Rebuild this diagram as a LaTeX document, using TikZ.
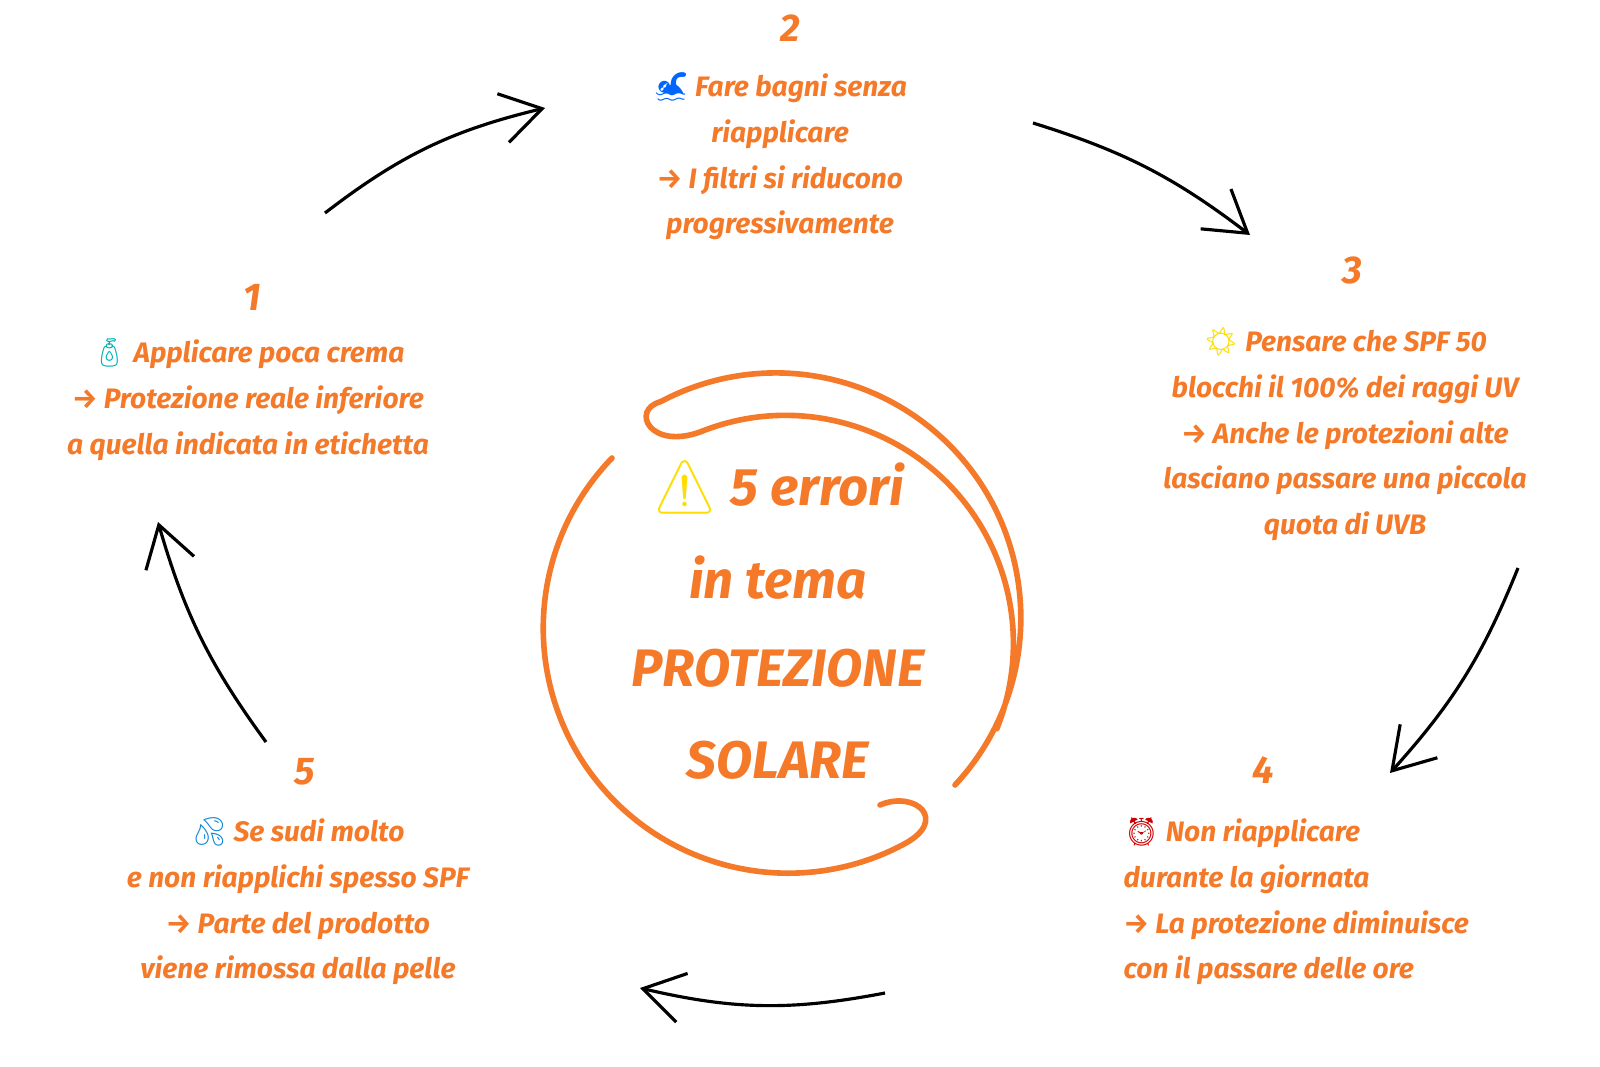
\documentclass[tikz,border=0pt]{standalone}
\usepackage{fontspec}
\setmainfont{Fira Sans}
\newfontfamily\emo{Noto Emoji}
\definecolor{sunorange}{HTML}{F47A2A}
\tikzset{
  step text/.style={text=sunorange, font=\fontsize{8}{13}\selectfont\bfseries\itshape, align=center, inner sep=0pt},
  step num/.style={text=sunorange, font=\fontsize{11}{13}\selectfont\bfseries\itshape, inner sep=0pt},
  cycle arrow/.style={draw=black, line width=0.9pt, -{Straight Barb[length=4mm,width=5mm]}},
  swirl/.style={draw=sunorange, line width=1.6pt, line cap=round}
}
\usetikzlibrary{arrows.meta}
\begin{document}
\begin{tikzpicture}[x=0.01cm, y=-0.01cm]
\useasboundingbox (0,0) rectangle (1600,1067);

% titolo centrale
\begin{scope}[every node/.style={text=sunorange, font=\fontsize{15}{15}\selectfont\bfseries\itshape, inner sep=0pt}]
  \node (t1) at (778,487) {{\emo\color{yellow!80!orange}⚠} 5 errori};
  \node (t2) at (778,578) {in tema};
  \node (t3) at (778,668) {PROTEZIONE};
  \node (t4) at (778,760) {SOLARE};
\end{scope}

% cerchio arancione
\draw[swirl] (612,458) arc[start angle=224, end angle=62, radius=245]
  .. controls (950,820) and (915,790) .. (880,805);
\draw[swirl] (955,785) arc[start angle=43, end angle=-118, radius=245]
  .. controls (630,410) and (650,450) .. (700,432)
  arc[start angle=-112, end angle=22, radius=228];

% numeri
\node[step num] (n1) at (252,297) {1};
\node[step num] (n2) at (790,28) {2};
\node[step num] (n3) at (1352,270) {3};
\node[step num] (n4) at (1263,770) {4};
\node[step num] (n5) at (305,772) {5};

% testi
\node[step text, anchor=north] (s1) at (248,338) {{\emo\color{teal!60!cyan}🧴} Applicare poca crema\\ → Protezione reale inferiore\\ a quella indicata in etichetta};
\node[step text, anchor=north] (s2) at (780,72) {{\emo\color{blue!60!cyan}🏊} Fare bagni senza\\ riapplicare\\ → I filtri si riducono\\ progressivamente};
\node[step text, anchor=north] (s3) at (1345,327) {{\emo\color{yellow!80!orange}☀} Pensare che SPF 50\\ blocchi il 100\% dei raggi UV\\ → Anche le protezioni alte\\ lasciano passare una piccola\\ quota di UVB};
\node[step text, anchor=north west, align=left] (s4) at (1123,817) {{\emo\color{red!80!black}⏰} Non riapplicare\\ durante la giornata\\ → La protezione diminuisce\\ con il passare delle ore};
\node[step text, anchor=north] (s5) at (298,817) {{\emo\color{cyan!70!blue}💦} Se sudi molto\\ e non riapplichi spesso SPF\\ → Parte del prodotto\\ viene rimossa dalla pelle};

% frecce del ciclo
\coordinate (a1) at (325,213); \coordinate (b1) at (545,108);
\coordinate (a2) at (1033,123); \coordinate (b2) at (1250,235);
\coordinate (a3) at (1518,568); \coordinate (b3) at (1390,773);
\coordinate (a4) at (885,993); \coordinate (b4) at (640,988);
\coordinate (a5) at (266,742); \coordinate (b5) at (158,522);
\draw[cycle arrow] (a1) to[bend left=12] (b1);
\draw[cycle arrow] (a2) to[bend left=10] (b2);
\draw[cycle arrow] (a3) to[bend left=10] (b3);
\draw[cycle arrow] (a4) to[bend left=12] (b4);
\draw[cycle arrow] (a5) to[bend left=10] (b5);
\end{tikzpicture}
\end{document}
